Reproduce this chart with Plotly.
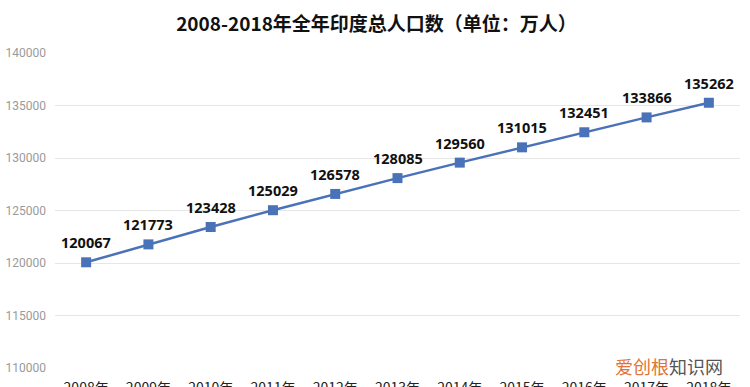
import plotly.graph_objects as go

years = ["2008年", "2009年", "2010年", "2011年", "2012年", "2013年",
         "2014年", "2015年", "2016年", "2017年", "2018年"]
population = [120067, 121773, 123428, 125029, 126578, 128085,
              129560, 131015, 132451, 133866, 135262]
y_ticks = [110000, 115000, 120000, 125000, 130000, 135000, 140000]

title_text = "2008-2018年全年印度总人口数（单位：万人）"
line_color = "#4a72b8"

fig = go.Figure()
fig.add_trace(go.Scatter(
    x=years, y=population,
    mode="lines+markers",
    line=dict(color=line_color, width=2.5),
    marker=dict(symbol="square", size=10, color=line_color),
    cliponaxis=False,
    hoverinfo="skip",
))

annotations = [
    dict(
        x=yr, y=val, xref="x", yref="y",
        text=str(val), showarrow=False,
        yshift=20, xanchor="center", yanchor="middle",
        font=dict(family="Noto Sans, Noto Sans CJK SC", size=14.5, color="#111111", weight="bold"),
    )
    for yr, val in zip(years, population)
]
annotations.append(dict(
    text="<span style='color:#e0733a'>爱创根</span><span style='color:#555555'>知识网</span>",
    x=(725 - 55) / 685, y=0.005, xref="paper", yref="paper",
    xanchor="right", yanchor="middle",
    font=dict(family="Noto Sans CJK SC", size=18),
    showarrow=False,
))

fig.update_layout(
    width=750, height=387,
    margin=dict(l=55, r=10, t=53, b=19, autoexpand=False),
    paper_bgcolor="white", plot_bgcolor="white",
    showlegend=False,
    title=dict(
        text=title_text,
        x=0.502, xanchor="center", y=1 - 24 / 387, yanchor="middle",
        xref="container", yref="container",
        font=dict(family="Noto Sans CJK SC", size=19, color="#111111", weight="bold"),
    ),
    xaxis=dict(
        type="category",
        range=[-0.5, 10.5],
        showgrid=False, zeroline=False, showline=False,
        ticks="", automargin=False,
        ticklabelstandoff=10,
        tickfont=dict(family="Noto Sans CJK SC", size=14, color="#222222"),
    ),
    yaxis=dict(
        range=[110000, 140000],
        tickvals=y_ticks,
        ticktext=[str(v) for v in y_ticks],
        showgrid=True, gridcolor="#e6e6e6", gridwidth=1,
        zeroline=False, showline=False,
        ticks="", automargin=False,
        ticklabelstandoff=8,
        tickfont=dict(family="Liberation Sans Narrow, Roboto", size=12, color="#9a9a9a"),
    ),
    annotations=annotations,
)

fig.write_html(
    "out.html",
    config={"displayModeBar": False, "staticPlot": True},
    post_script="document.body.style.margin='0px';document.body.style.overflow='hidden';",
)
